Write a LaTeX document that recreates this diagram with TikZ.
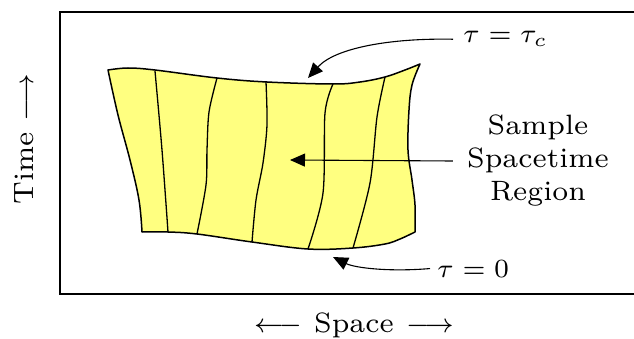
\documentclass[tikz,border=0pt]{standalone}
\usepackage{graphicx}
\usetikzlibrary{arrows.meta}
\definecolor{regionyellow}{RGB}{255,255,128}
\newcommand{\bigtext}[1]{\scalebox{4.0}{\fontsize{7}{8.25}\selectfont #1}}
\newcommand{\bigmath}[1]{\scalebox{3.75}{\fontsize{7}{8.25}\selectfont $#1$}}
\begin{document}
\begin{tikzpicture}[x=1pt,y=-1pt,
  frame/.style={line width=1.6pt},
  region/.style={fill=regionyellow, draw=black, line width=1.5pt, line join=round},
  gridline/.style={line width=1.3pt},
  pointer/.style={line width=1.1pt, -{Triangle[length=15pt,width=13pt]}},
  lbl/.style={inner sep=0pt}]
\useasboundingbox (0,0) rectangle (634,339);
% frame
\draw[frame] (60,12) rectangle (650,294);
% region
\draw[region] plot[smooth,tension=0.6] coordinates {(108,70) (128,68) (155,70) (217,78) (267,82) (333,84) (360,82) (385,77) (405,70) (420,64)}
  -- plot[smooth,tension=0.6] coordinates {(420,64) (412,85) (409,110) (408,150) (412,180) (415,205) (415,232)}
  -- plot[smooth,tension=0.6] coordinates {(415,232) (400,239) (385,244) (353,248) (308,249) (252,242) (197,234) (168,232) (142,232)}
  -- plot[smooth,tension=0.6] coordinates {(142,232) (139,200) (130,160) (118,115) (108,70)} -- cycle;
% interior lines
\draw[gridline] plot[smooth] coordinates {(155,71) (162,150) (168,232)};
\draw[gridline] plot[smooth] coordinates {(217,78) (209,112) (207,150) (206,185) (197,234)};
\draw[gridline] plot[smooth] coordinates {(266,82) (267,125) (263,163) (256,200) (252,242)};
\draw[gridline] plot[smooth] coordinates {(333,84) (325,113) (323,193) (308,249)};
\draw[gridline] plot[smooth] coordinates {(385,77) (377,117) (370,183) (353,248)};
% labels
\node[lbl, anchor=base west, rotate=90] (time) at (33,205) {\bigtext{Time}\hspace{11pt}\bigmath{\longrightarrow}};
\node[lbl, anchor=base] (space) at (354,332) {\bigmath{\longleftarrow}\hspace{12pt}\bigtext{Space}\hspace{12pt}\bigmath{\longrightarrow}};
\node[lbl] (samp) at (538,161) {\bigtext{\begin{tabular}{@{}c@{}}Sample\\Spacetime\\Region\end{tabular}}};
\node[lbl, anchor=base west] (tauc) at (463,43) {\bigmath{\tau=\tau_c}};
\node[lbl, anchor=base west] (tau0) at (437,277) {\bigmath{\tau=0}};
% pointer tips
\coordinate (tipc) at (308,78);
\coordinate (tip0) at (333,257);
\coordinate (tips) at (290,160);
% arrows
\draw[pointer] ([xshift=-10pt]tauc.west) .. controls (390,38) and (335,48) .. (tipc);
\draw[pointer] ([xshift=-7pt]tau0.west) .. controls (390,272) and (355,268) .. (tip0);
\draw[pointer] ([xshift=-14pt]samp.west) -- (tips);
\end{tikzpicture}
\end{document}
